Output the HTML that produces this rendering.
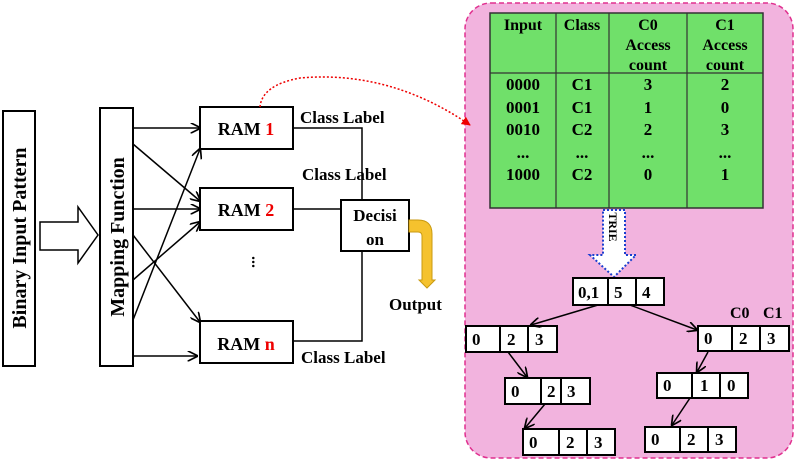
<!DOCTYPE html>
<html><head><meta charset="utf-8"><style>
body{margin:0;background:#fff}
svg{display:block;font-family:"Liberation Serif",serif;font-weight:bold}
</style></head><body>
<svg width="795" height="461" viewBox="0 0 795 461" xmlns="http://www.w3.org/2000/svg">
<defs>
<marker id="ah" viewBox="0 0 10 10" refX="9" refY="5" markerWidth="7" markerHeight="7" orient="auto"><path d="M0,0 L10,5 L0,10" fill="none" stroke="#000" stroke-width="1.6"/></marker>
<marker id="ahr" viewBox="0 0 10 10" refX="9" refY="5" markerWidth="6" markerHeight="6" orient="auto"><path d="M0,0 L10,5 L0,10 z" fill="#e00"/></marker>
</defs>
<g>
<rect x="465" y="3" width="328" height="455" rx="26" fill="#f2b3de" stroke="#e0308f" stroke-width="1.5" stroke-dasharray="5,3"/>
</g>
<g>
<rect x="3" y="111" width="32" height="255" fill="#fff" stroke="#000" stroke-width="2"/>
<text transform="translate(26,238) rotate(-90)" text-anchor="middle" font-size="20">Binary Input Pattern</text>
</g>
<path d="M40,222 L78,222 L78,207 L98,235 L78,263 L78,250 L40,250 Z" fill="#fff" stroke="#000" stroke-width="1.5"/>
<g>
<rect x="100" y="108" width="33" height="258" fill="#fff" stroke="#000" stroke-width="2"/>
<text transform="translate(124,237) rotate(-90)" text-anchor="middle" font-size="20">Mapping Function</text>
</g>
<g stroke="#000" stroke-width="1.5" marker-end="url(#ah)">
<line x1="133" y1="128" x2="200" y2="128"/>
<line x1="133" y1="144" x2="200" y2="201"/>
<line x1="133" y1="209" x2="200" y2="209"/>
<line x1="133" y1="280" x2="200" y2="222"/>
<line x1="133" y1="235" x2="200" y2="322"/>
<line x1="133" y1="320" x2="200" y2="149"/>
<line x1="133" y1="356" x2="197" y2="356"/>
</g>
<g><rect x="200" y="107" width="93" height="42" fill="#fff" stroke="#000" stroke-width="2"/><text x="246" y="135" text-anchor="middle" font-size="18">RAM <tspan fill="#e00">1</tspan></text></g>
<g><rect x="200" y="188" width="93" height="42" fill="#fff" stroke="#000" stroke-width="2"/><text x="246" y="216" text-anchor="middle" font-size="18">RAM <tspan fill="#e00">2</tspan></text></g>
<g><rect x="200" y="321" width="93" height="42" fill="#fff" stroke="#000" stroke-width="2"/><text x="246" y="350" text-anchor="middle" font-size="18">RAM <tspan fill="#e00">n</tspan></text></g>
<text x="252" y="262" font-size="16" text-anchor="middle" transform="rotate(90 252 262)">...</text>
<g fill="none" stroke="#000" stroke-width="1.5">
<path d="M293,128 L362,128 L362,200"/><path d="M293,209 L341,209"/><path d="M293,341 L362,341 L362,251"/>
</g>
<text x="300" y="123" font-size="17">Class Label</text>
<text x="302" y="180" font-size="17">Class Label</text>
<text x="301" y="363" font-size="17">Class Label</text>
<g>
<rect x="341" y="200" width="68" height="51" fill="#fff" stroke="#000" stroke-width="2"/>
<text x="375" y="221" text-anchor="middle" font-size="17">Decisi</text>
<text x="375" y="245" text-anchor="middle" font-size="17">on</text>
</g>
<path d="M409,220 L418,220 Q432,220 432,234 L432,280 L435,280 L427,288 L419,280 L422,280 L422,236 Q422,232 418,232 L409,232 Z" fill="#f5c22e" stroke="#c99a10" stroke-width="1"/>
<text x="389" y="310" font-size="17">Output</text>
<path d="M260,107 Q262,85 300,78 Q390,70 470,125" fill="none" stroke="#e00" stroke-width="1.5" stroke-dasharray="2,2" marker-end="url(#ahr)"/>
<g font-size="16" text-anchor="middle">
<rect x="490" y="13" width="273" height="195" fill="#70e06a" stroke="#333" stroke-width="1.5"/>
<g stroke="#333" stroke-width="1.2"><line x1="556" y1="13" x2="556" y2="208"/><line x1="609" y1="13" x2="609" y2="208"/><line x1="687" y1="13" x2="687" y2="208"/><line x1="490" y1="73" x2="763" y2="73"/></g>
<text x="523" y="30">Input</text><text x="582" y="30">Class</text>
<text x="648" y="30">C0</text><text x="648" y="50">Access</text><text x="648" y="70">count</text>
<text x="725" y="30">C1</text><text x="725" y="50">Access</text><text x="725" y="70">count</text>
<g font-size="17">
<text x="523" y="90">0000</text><text x="582" y="90">C1</text><text x="648" y="90">3</text><text x="725" y="90">2</text>
<text x="523" y="113">0001</text><text x="582" y="113">C1</text><text x="648" y="113">1</text><text x="725" y="113">0</text>
<text x="523" y="135">0010</text><text x="582" y="135">C2</text><text x="648" y="135">2</text><text x="725" y="135">3</text>
<text x="523" y="158">...</text><text x="582" y="158">...</text><text x="648" y="158">...</text><text x="725" y="158">...</text>
<text x="523" y="180">1000</text><text x="582" y="180">C2</text><text x="648" y="180">0</text><text x="725" y="180">1</text>
</g></g>
<g>
<path d="M603,210 L625,210 L625,255 L636,255 L614,277 L590,255 L603,255 Z" fill="#fff" stroke="#1a3fd0" stroke-width="2" stroke-dasharray="2,2"/>
<text transform="translate(609,227) rotate(90)" text-anchor="middle" font-size="12">TRIE</text>
</g>
<g font-size="17">
<g><rect x="573" y="278" width="91" height="27" fill="#fff" stroke="#000" stroke-width="2"/><line x1="608" y1="278" x2="608" y2="305" stroke="#000" stroke-width="2"/><line x1="636" y1="278" x2="636" y2="305" stroke="#000" stroke-width="2"/><text x="578" y="298">0,1</text><text x="614" y="298">5</text><text x="642" y="298">4</text></g>
<g><rect x="466" y="326" width="91" height="26" fill="#fff" stroke="#000" stroke-width="2"/><line x1="500" y1="326" x2="500" y2="352" stroke="#000" stroke-width="2"/><line x1="528" y1="326" x2="528" y2="352" stroke="#000" stroke-width="2"/><text x="472" y="345">0</text><text x="507" y="345">2</text><text x="535" y="345">3</text></g>
<g><rect x="698" y="326" width="91" height="25" fill="#fff" stroke="#000" stroke-width="2"/><line x1="732" y1="326" x2="732" y2="351" stroke="#000" stroke-width="2"/><line x1="760" y1="326" x2="760" y2="351" stroke="#000" stroke-width="2"/><text x="704" y="344">0</text><text x="739" y="344">2</text><text x="767" y="344">3</text></g>
<text x="730" y="318" font-size="16">C0</text><text x="763" y="318" font-size="16">C1</text>
<g><rect x="505" y="378" width="85" height="26" fill="#fff" stroke="#000" stroke-width="2"/><line x1="541" y1="378" x2="541" y2="404" stroke="#000" stroke-width="2"/><line x1="561" y1="378" x2="561" y2="404" stroke="#000" stroke-width="2"/><text x="511" y="397">0</text><text x="547" y="397">2</text><text x="567" y="397">3</text></g>
<g><rect x="657" y="373" width="91" height="25" fill="#fff" stroke="#000" stroke-width="2"/><line x1="692" y1="373" x2="692" y2="398" stroke="#000" stroke-width="2"/><line x1="720" y1="373" x2="720" y2="398" stroke="#000" stroke-width="2"/><text x="663" y="391">0</text><text x="700" y="391">1</text><text x="727" y="391">0</text></g>
<g><rect x="523" y="429" width="92" height="26" fill="#fff" stroke="#000" stroke-width="2"/><line x1="559" y1="429" x2="559" y2="455" stroke="#000" stroke-width="2"/><line x1="587" y1="429" x2="587" y2="455" stroke="#000" stroke-width="2"/><text x="529" y="448">0</text><text x="566" y="448">2</text><text x="594" y="448">3</text></g>
<g><rect x="645" y="427" width="91" height="25" fill="#fff" stroke="#000" stroke-width="2"/><line x1="680" y1="427" x2="680" y2="452" stroke="#000" stroke-width="2"/><line x1="708" y1="427" x2="708" y2="452" stroke="#000" stroke-width="2"/><text x="651" y="445">0</text><text x="687" y="445">2</text><text x="715" y="445">3</text></g>
</g>
<g stroke="#000" stroke-width="1.5" marker-end="url(#ah)">
<line x1="598" y1="305" x2="531" y2="325"/><line x1="630" y1="305" x2="697" y2="330"/>
<line x1="508" y1="352" x2="527" y2="377"/><line x1="545" y1="404" x2="525" y2="428"/>
<line x1="708" y1="352" x2="697" y2="372"/><line x1="690" y1="398" x2="672" y2="425"/>
</g>
</svg>
</body></html>
